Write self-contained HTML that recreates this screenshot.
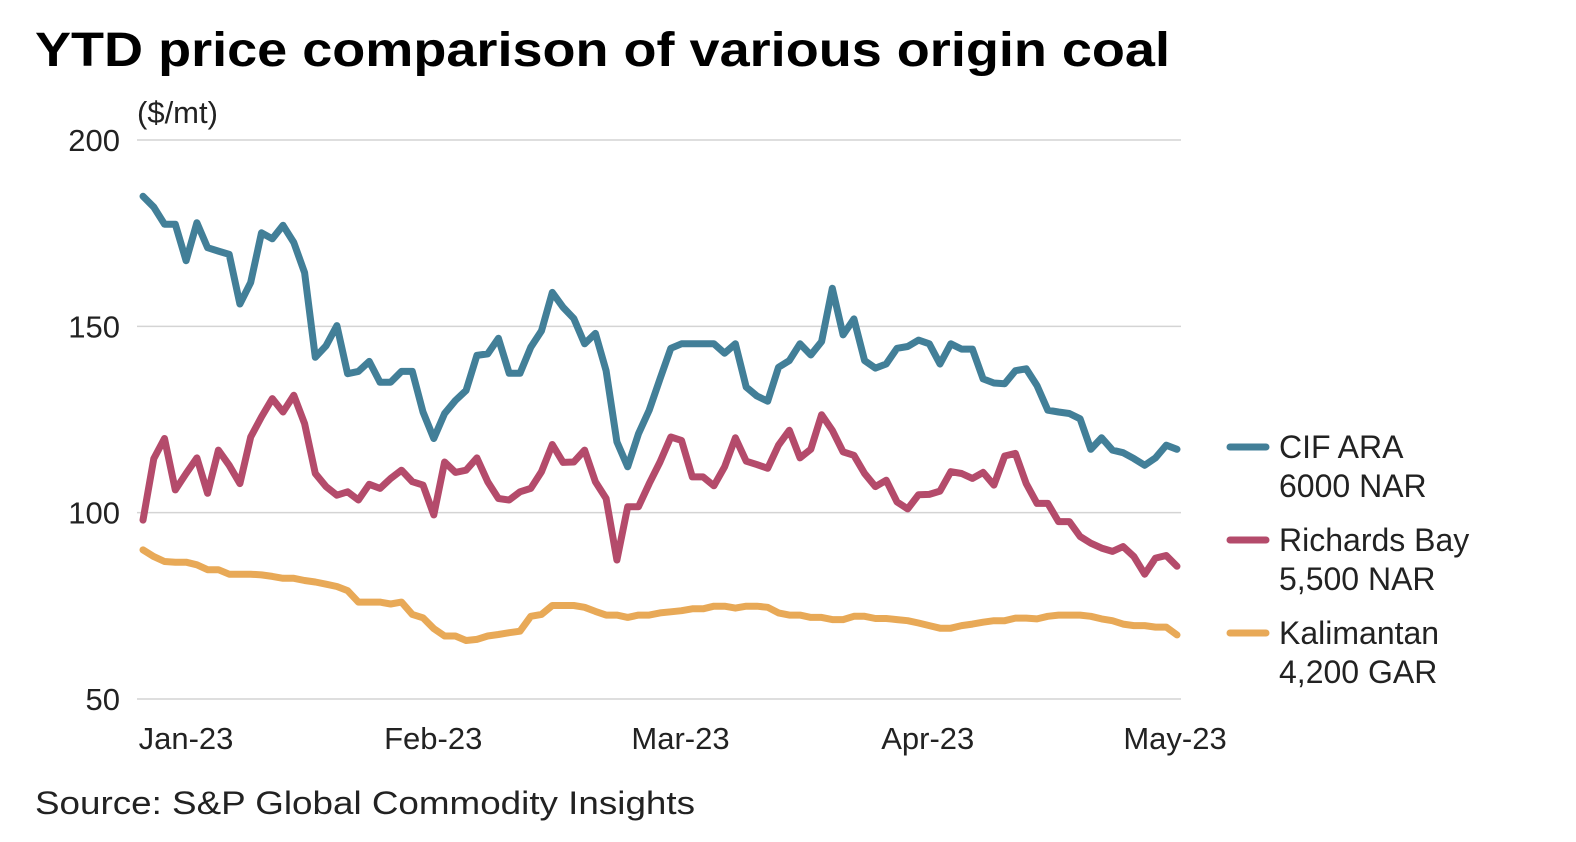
<!DOCTYPE html>
<html><head><meta charset="utf-8"><style>
html,body{margin:0;padding:0;background:#fff;}
svg{display:block;font-family:"Liberation Sans",sans-serif;}
</style></head><body>
<svg id="chart" width="1576" height="842" viewBox="0 0 1576 842" xmlns="http://www.w3.org/2000/svg">
<text x="35" y="66" font-size="48" font-weight="bold" fill="#000" textLength="1135" lengthAdjust="spacingAndGlyphs">YTD price comparison of various origin coal</text>
<text x="137" y="123" font-size="31" fill="#222">($/mt)</text>
<g id="grid"></g><g id="yticks"></g><g id="xticks"></g><g id="lines"></g><g id="legend"></g>
<text x="35" y="814" font-size="32" fill="#222" textLength="660" lengthAdjust="spacingAndGlyphs">Source: S&amp;P Global Commodity Insights</text>
</svg>
<script>
const xTickLabels = ["Jan-23","Feb-23","Mar-23","Apr-23","May-23"];
const yTicks = [50,100,150,200];
const cifAra = [184.9,182,177.4,177.4,167.6,177.8,171.1,170.2,169.3,156,161.8,175.1,173.5,177.1,172.5,164.4,141.7,144.8,150.2,137.3,137.9,140.6,135,135,137.9,137.9,127,119.9,126.6,130.1,132.8,142.2,142.6,146.8,137.4,137.4,144.4,148.8,159.1,155.1,152.1,145.3,148.1,138.1,119,112.3,121.2,127.5,135.9,144.1,145.3,145.3,145.3,145.3,142.8,145.3,133.7,131.3,129.9,139,140.8,145.3,142.3,145.9,160.2,147.7,152,140.8,138.8,139.9,144.1,144.6,146.3,145.3,139.9,145.3,143.9,143.9,135.9,134.8,134.6,138.1,138.6,134.1,127.5,127,126.6,125.2,117,120.1,116.8,116.1,114.5,112.7,114.7,118.1,117];
const richardsBay = [98,114.5,119.9,106.1,110.5,114.7,105.2,116.8,112.7,107.8,120.3,125.7,130.6,127,131.5,123.9,110.5,107,104.7,105.6,103.4,107.6,106.5,109.2,111.4,108.3,107.4,99.4,113.6,110.8,111.4,114.7,108.3,103.8,103.4,105.6,106.5,111,118.3,113.5,113.6,116.8,108.3,103.8,87.3,101.6,101.6,107.8,113.6,120.3,119.4,109.6,109.6,107.2,112.3,120.1,113.8,112.9,111.9,118.1,122.1,114.7,117,126.3,122.1,116.3,115.4,110.5,107,108.7,102.9,101,104.8,104.9,105.8,111,110.5,109.2,110.8,107.4,115.2,115.9,107.8,102.5,102.5,97.6,97.6,93.6,91.8,90.5,89.6,90.9,88.2,83.5,87.8,88.5,85.6];
const kalimantan = [90,88.2,86.9,86.7,86.7,86,84.7,84.7,83.5,83.5,83.5,83.3,82.9,82.4,82.4,81.8,81.4,80.8,80.2,79.1,76,76,76,75.5,76,72.7,71.8,68.9,66.9,66.9,65.7,66,66.9,67.3,67.8,68.2,72.2,72.7,75.1,75.1,75.1,74.6,73.5,72.5,72.5,71.9,72.5,72.5,73.1,73.4,73.7,74.2,74.2,74.9,74.9,74.4,74.9,74.9,74.6,73.1,72.5,72.5,71.9,71.9,71.3,71.3,72.2,72.2,71.6,71.6,71.3,71,70.4,69.7,69,69,69.7,70.1,70.6,71,71,71.7,71.7,71.5,72.2,72.5,72.5,72.5,72.2,71.5,71,70.1,69.7,69.7,69.3,69.3,67.2];
const seriesNames = [["CIF ARA","6000 NAR"],["Richards Bay","5,500 NAR"],["Kalimantan","4,200 GAR"]];
const seriesColors = ["#427f98","#b44b6b","#e8a957"];

const NS="http://www.w3.org/2000/svg";
const X0=143,X1=1177,Y50=699,Y200=140;
function yScale(v){return Y50+(v-50)*(Y200-Y50)/150;}
function xScale(i,n){return X0+i*(X1-X0)/(n-1);}
function tickX(k){return 186+k*(1175-186)/(xTickLabels.length-1);}
function mk(tag,attrs,parent){const e=document.createElementNS(NS,tag);for(const k in attrs)e.setAttribute(k,attrs[k]);parent.appendChild(e);return e;}
const grid=document.getElementById('grid'),yt=document.getElementById('yticks'),xt=document.getElementById('xticks'),lines=document.getElementById('lines'),lg=document.getElementById('legend');
yTicks.forEach(v=>{
  const l=mk('line',{x1:137,x2:1181,y1:yScale(v),y2:yScale(v),stroke:'#d4d4d4','stroke-width':1.5},grid);
  
  
  const t=mk('text',{x:120,y:yScale(v)+11,'text-anchor':'end','font-size':31,fill:'#222'},yt);
  t.textContent=v;
  
  
});
xTickLabels.forEach((s,k)=>{
  const t=mk('text',{x:tickX(k),y:749,'text-anchor':'middle','font-size':31,fill:'#222'},xt);
  t.textContent=s;
  
  
});
[kalimantan,richardsBay,cifAra].forEach((arr,j)=>{
  const idx=2-j;
  const pts=arr.map((v,i)=>xScale(i,arr.length).toFixed(1)+','+yScale(v).toFixed(1)).join(' ');
  const p=mk('polyline',{points:pts,fill:'none',stroke:seriesColors[idx],'stroke-width':7,'stroke-linejoin':'round','stroke-linecap':'round'},lines);
  
  
});
seriesNames.forEach((nm,k)=>{
  const y0=447+k*93;
  const g=mk('g',{},lg);
  
  
  mk('line',{x1:1230,x2:1266,y1:y0,y2:y0,stroke:seriesColors[k],'stroke-width':7,'stroke-linecap':'round'},g);
  const t1=mk('text',{x:1279,y:y0+11,'font-size':32,fill:'#222'},g);t1.textContent=nm[0];
  const t2=mk('text',{x:1279,y:y0+50,'font-size':32,fill:'#222'},g);t2.textContent=nm[1];
});
</script>
</body></html>
